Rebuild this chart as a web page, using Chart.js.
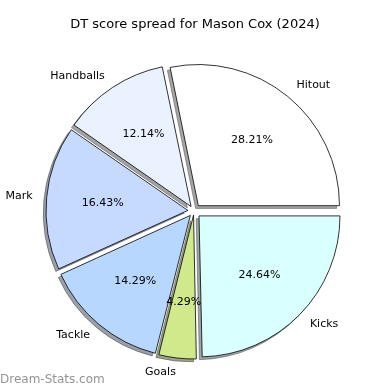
<!DOCTYPE html>
<html>
<head>
<meta charset="utf-8">
<script src="https://cdn.jsdelivr.net/npm/chart.js@4.4.0/dist/chart.umd.min.js"></script>
<style>
  html, body { margin: 0; padding: 0; background: #fff; }
  #wrap { width: 390px; height: 390px; position: relative; }
</style>
</head>
<body>
<div id="wrap"><canvas id="chart" width="390" height="390"></canvas></div>
<script>
// matplotlib order is counter-clockwise from 3 o'clock, Chart.js goes clockwise,
// so the slices are listed here in reverse
const labels = ['Kicks', 'Goals', 'Tackle', 'Mark', 'Handballs', 'Hitout'];
const values = [24.64, 4.29, 14.29, 16.43, 12.14, 28.21];
const colors = ['#daffff', '#d0ea8b', '#b8d7ff', '#c6d9ff', '#ebf2ff', '#ffffff'];

const title = 'DT score spread for Mason Cox (2024)';
const watermark = 'Dream-Stats.com';

const R = 141;        // pie radius
const EXPLODE = 7;    // px each slice is pushed out
const SHADOW = 2.8;   // shadow offset px

const total = values.reduce((a, b) => a + b, 0);

// Chart.js moves a slice by offset/4 * (1 + fix), fix depends on slice size;
// work back to get the same push for every slice
const offsets = values.map(v => {
    const circ = v / total * Math.PI * 2;
    const fix = 1 - Math.sin(Math.min(Math.PI, circ));
    return 4 * EXPLODE / (1 + fix);
});

function shade(hex) {
    const n = parseInt(hex.slice(1), 16);
    const r = Math.round(((n >> 16) & 255) * 0.3);
    const g = Math.round(((n >> 8) & 255) * 0.3);
    const b = Math.round((n & 255) * 0.3);
    return 'rgba(' + r + ',' + g + ',' + b + ',0.5)';
}

function explodedCenter(arc) {
    const mid = (arc.startAngle + arc.endAngle) / 2;
    return { x: arc.x + Math.cos(mid) * EXPLODE, y: arc.y + Math.sin(mid) * EXPLODE, mid: mid };
}

const pieExtras = {
    id: 'pieExtras',
    beforeDatasetsDraw(chart) {
        const ctx = chart.ctx;
        const arcs = chart.getDatasetMeta(0).data;
        ctx.save();
        arcs.forEach((arc, i) => {
            const c = explodedCenter(arc);
            const cx = c.x - SHADOW, cy = c.y + SHADOW;
            ctx.beginPath();
            ctx.moveTo(cx, cy);
            ctx.arc(cx, cy, arc.outerRadius, arc.startAngle, arc.endAngle);
            ctx.closePath();
            ctx.fillStyle = shade(colors[i]);
            ctx.strokeStyle = shade(colors[i]);
            ctx.lineWidth = 1;
            ctx.fill();
            ctx.stroke();
        });
        ctx.restore();
    },
    afterDatasetsDraw(chart) {
        const ctx = chart.ctx;
        const arcs = chart.getDatasetMeta(0).data;
        ctx.save();
        ctx.fillStyle = '#000';
        ctx.textBaseline = 'middle';
        ctx.font = '11px "DejaVu Sans"';
        arcs.forEach((arc, i) => {
            const c = explodedCenter(arc);
            const r = arc.outerRadius;
            // slice name at 1.1 r
            const lx = c.x + Math.cos(c.mid) * r * 1.1;
            const ly = c.y + Math.sin(c.mid) * r * 1.1;
            ctx.textAlign = lx > arc.x ? 'left' : 'right';
            ctx.fillText(labels[i], lx, ly);
            // percentage at 0.6 r
            const px = c.x + Math.cos(c.mid) * r * 0.6;
            const py = c.y + Math.sin(c.mid) * r * 0.6;
            ctx.textAlign = 'center';
            ctx.fillText((values[i] / total * 100).toFixed(2) + '%', px, py);
        });

        ctx.font = '13px "DejaVu Sans"';
        ctx.textAlign = 'center';
        ctx.fillText(title, 195, 25);

        ctx.font = '12px "DejaVu Sans"';
        ctx.textAlign = 'left';
        ctx.fillStyle = 'rgba(120,120,120,0.8)';
        ctx.fillText(watermark, 0, 380);
        ctx.restore();
    }
};

new Chart(document.getElementById('chart'), {
    type: 'pie',
    data: {
        labels: labels,
        datasets: [{
            data: values,
            backgroundColor: colors,
            borderColor: '#000',
            borderWidth: 0.8,
            offset: offsets,
            hoverOffset: 0,
            radius: R
        }]
    },
    options: {
        responsive: false,
        animation: false,
        rotation: 90,
        layout: { padding: { left: 40, right: 42, top: 57, bottom: 25 } },
        plugins: {
            legend: { display: false },
            tooltip: { enabled: false },
            title: { display: false }
        },
        events: []
    },
    plugins: [pieExtras]
});
</script>
</body>
</html>
